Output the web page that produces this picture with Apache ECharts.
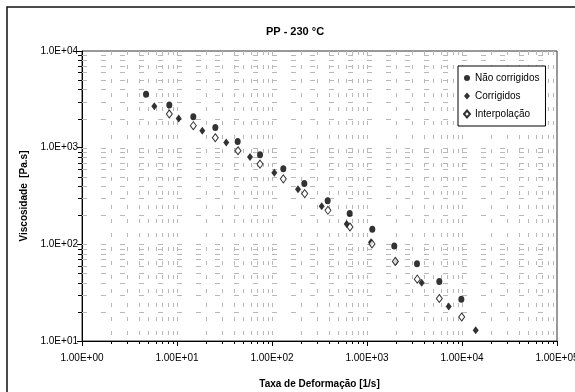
<!DOCTYPE html>
<html><head><meta charset="utf-8">
<script src="https://cdn.jsdelivr.net/npm/echarts@6/dist/echarts.min.js"></script>
<style>html,body{margin:0;padding:0;background:#fff}#c{width:575px;height:392px}</style>
</head><body><div id="c"></div>
<script>
const naoX = [4.72, 8.30, 14.85, 25.3, 43.5, 74.8, 131.5, 218.8, 385.5, 657, 1137, 1937, 3359, 5770, 9840];
const naoY = [3564, 2766, 2092, 1620, 1160, 844, 604, 425, 283, 208, 143, 96, 62.9, 41.3, 27.1];
const corX = [5.77, 10.42, 18.46, 33.0, 58.7, 105.7, 187.8, 333.6, 611.5, 1102, 2005, 3765, 7246, 13940];
const corY = [2676, 2009, 1497, 1132, 799, 549, 372, 248, 162, 105, 66.6, 40.0, 22.7, 12.9];
const intX = [8.30, 14.85, 25.3, 43.9, 74.8, 131.5, 221, 388, 662, 1129, 1986, 3383, 5770, 9930];
const intY = [2231, 1687, 1266, 929, 676, 476, 335, 225, 151, 101, 66.6, 43.6, 27.5, 17.7];
const xTickLabels = ['1.00E+00','1.00E+01','1.00E+02','1.00E+03','1.00E+04','1.00E+05'];
const yTickLabels = ['1.0E+01','1.0E+02','1.0E+03','1.0E+04'];
const seriesNames = ['Não corrigidos', 'Corrigidos', 'Interpolação'];

// gridline / minor tick positions (value, dummy, isMinor)
const xGrid = [];
for (let k = 0; k < 5; k++) for (let m = 1; m <= 9; m++) { if (k === 0 && m === 1) continue; xGrid.push([m * Math.pow(10, k), 100, m === 1 ? 0 : 1]); }
const yGrid = [];
for (let k = 1; k < 4; k++) for (let m = 1; m <= 9; m++) { if (k === 1 && m === 1) continue; yGrid.push([10, m * Math.pow(10, k), m === 1 ? 0 : 1]); }

const FONT = 'Liberation Sans';
const GRID_COLOR = '#b8b8b8';

function vRender(params, api) {
  const cs = params.coordSys;
  const px = Math.round(api.coord([api.value(0), 100])[0]) + 0.5;
  const bottom = cs.y + cs.height;
  const ch = [{ type: 'line', shape: { x1: px, y1: cs.y, x2: px, y2: bottom }, style: { stroke: GRID_COLOR, lineWidth: 1, lineDash: [4, 10] } }];
  if (api.value(2) === 1) ch.push({ type: 'line', shape: { x1: px, y1: bottom, x2: px, y2: bottom + 3 }, style: { stroke: '#000', lineWidth: 1 } });
  return { type: 'group', children: ch };
}
function hRender(params, api) {
  const cs = params.coordSys;
  const py = Math.round(api.coord([10, api.value(1)])[1]) + 0.5;
  const ch = [{ type: 'line', shape: { x1: cs.x, y1: py, x2: cs.x + cs.width, y2: py }, style: { stroke: GRID_COLOR, lineWidth: 1, lineDash: [5, 14] } }];
  if (api.value(2) === 1) ch.push({ type: 'line', shape: { x1: cs.x - 4, y1: py, x2: cs.x, y2: py }, style: { stroke: '#000', lineWidth: 1 } });
  return { type: 'group', children: ch };
}

const chart = echarts.init(document.getElementById('c'));
chart.setOption({
  animation: false,
  backgroundColor: '#fff',
  textStyle: { fontFamily: FONT },
  graphic: [
    { type: 'rect', silent: true, z: -10, shape: { x: 7, y: 7, width: 640, height: 440 }, style: { fill: 'transparent', stroke: '#111', lineWidth: 1.5 } },
    { type: 'text', silent: true, x: 295, y: 32, style: { text: 'PP - 230 °C', fontFamily: FONT, fontSize: 11, fontWeight: 'bold', fill: '#000', align: 'center', verticalAlign: 'middle' } }
  ],
  grid: { left: 82, right: 18, top: 51, bottom: 51, containLabel: false, outerBoundsMode: 'none', show: true, borderColor: '#333', borderWidth: 1, backgroundColor: 'transparent' },
  legend: {
    orient: 'vertical', left: 458, top: 66, data: seriesNames,
    backgroundColor: '#fff', borderColor: '#000', borderWidth: 1,
    padding: [7, 6, 7, 5], itemGap: 8, itemWidth: 6, itemHeight: 7,
    textStyle: { fontFamily: FONT, fontSize: 10, color: '#000' }
  },
  xAxis: {
    type: 'log', logBase: 10, min: 1, max: 100000,
    name: 'Taxa de Deformação [1/s]', nameLocation: 'middle', nameGap: 38,
    nameTextStyle: { fontFamily: FONT, fontSize: 10, fontWeight: 'bold', color: '#000' },
    axisLine: { show: true, lineStyle: { color: '#000', width: 1 } },
    axisTick: { show: true, inside: false, length: 5, lineStyle: { color: '#000' } },
    axisLabel: { fontFamily: FONT, fontSize: 10, color: '#000', margin: 12, formatter: v => xTickLabels[Math.round(Math.log10(v))] },
    splitLine: { show: false }
  },
  yAxis: {
    type: 'log', logBase: 10, min: 10, max: 10000,
    name: 'Viscosidade  [Pa.s]', nameLocation: 'middle', nameGap: 49, nameRotate: 90,
    nameTextStyle: { fontFamily: FONT, fontSize: 10, fontWeight: 'bold', color: '#000' },
    axisLine: { show: true, lineStyle: { color: '#000', width: 1 } },
    axisTick: { show: true, inside: false, length: 5, lineStyle: { color: '#000' } },
    axisLabel: { fontFamily: FONT, fontSize: 10, color: '#000', margin: 4, formatter: v => yTickLabels[Math.round(Math.log10(v)) - 1] },
    splitLine: { show: false }
  },
  series: [
    { type: 'custom', silent: true, z: 1, clip: false, renderItem: vRender, data: xGrid, encode: { x: 0, y: 1 } },
    { type: 'custom', silent: true, z: 1, clip: false, renderItem: hRender, data: yGrid, encode: { x: 0, y: 1 } },
    { name: seriesNames[0], type: 'scatter', z: 3, symbol: 'circle', symbolSize: [6, 7],
      itemStyle: { color: '#000' }, data: naoX.map((x, i) => [x, naoY[i]]) },
    { name: seriesNames[1], type: 'scatter', z: 4, symbol: 'diamond', symbolSize: [6, 8],
      itemStyle: { color: '#000' }, data: corX.map((x, i) => [x, corY[i]]) },
    { name: seriesNames[2], type: 'scatter', z: 5, symbol: 'diamond', symbolSize: [6, 8],
      itemStyle: { color: '#fff', borderColor: '#000', borderWidth: 1 }, data: intX.map((x, i) => [x, intY[i]]) }
  ]
});
</script></body></html>
